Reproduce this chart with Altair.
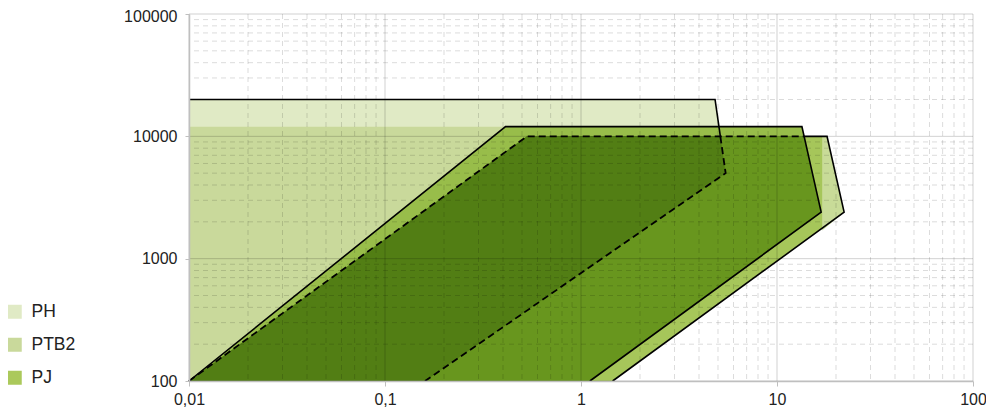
import altair as alt
import pandas as pd

FONT = "Liberation Sans"

# series outlines (x, y)
PH_X = [0.01, 0.01, 4.83, 5.47, 0.16]
PH_Y = [100, 20000, 20000, 5000, 100]
PTB2_X = [0.01, 0.412, 13.4, 16.8, 1.11]
PTB2_Y = [100, 12000, 12000, 2400, 100]
PJ_X = [0.01, 0.53, 18.0, 22.0, 1.45]
PJ_Y = [100, 10000, 10000, 2400, 100]

# overlap regions visible in the reference
PH_LOW_X = [0.01, 0.01, 5.06, 5.47, 0.16]
PH_LOW_Y = [100, 12000, 12000, 5000, 100]
PJ_TIP_X = [17.0, 18.0, 22.0, 17.0]
PJ_TIP_Y = [10000, 10000, 2400, 1700]
PTB2_PJ_X = [0.01, 0.53, 13.71, 16.8, 1.11]
PTB2_PJ_Y = [100, 10000, 10000, 2400, 100]
PH_PJ_X = [0.01, 0.53, 5.14, 5.47, 0.16]
PH_PJ_Y = [100, 10000, 10000, 5000, 100]

# outline pieces
PH_SOLID_X = [0.01, 4.83, 5.14]
PH_SOLID_Y = [20000, 20000, 10000]
PH_DASH_X = [5.14, 5.47, 0.16]
PH_DASH_Y = [10000, 5000, 100]
PJ_DASH_X = [0.01, 0.53, 13.71]
PJ_DASH_Y = [100, 10000, 10000]
PJ_SOLID_X = [13.71, 18.0, 22.0, 1.45]
PJ_SOLID_Y = [10000, 10000, 2400, 100]

SERIES = ["PH", "PTB2", "PJ"]
SERIES_COLORS = ["#e0eac5", "#c9d99b", "#abc95b"]

X_MAJOR = [0.01, 0.1, 1, 10, 100]
Y_MAJOR = [100, 1000, 10000, 100000]
MULT = [2, 3, 4, 5, 6, 7, 8, 9]
X_MINOR = [round(d * m, 4) for d in [0.01, 0.1, 1, 10] for m in MULT]
Y_MINOR = [d * m for d in [100, 1000, 10000] for m in MULT]


def frame(name, xs, ys):
    return pd.DataFrame({"shape": name, "i": list(range(len(xs))), "x": xs, "y": ys})


polys = pd.concat([
    frame("PH", PH_X, PH_Y),
    frame("PTB2", PTB2_X, PTB2_Y),
    frame("PJ", PJ_X, PJ_Y),
    frame("PH_LOW", PH_LOW_X, PH_LOW_Y),
    frame("PJ_TIP", PJ_TIP_X, PJ_TIP_Y),
    frame("PTB2_PJ", PTB2_PJ_X, PTB2_PJ_Y),
    frame("PH_PJ", PH_PJ_X, PH_PJ_Y),
], ignore_index=True)

solid = pd.concat([
    frame("ph_s", PH_SOLID_X, PH_SOLID_Y),
    frame("ptb2_s", PTB2_X, PTB2_Y),
    frame("pj_s", PJ_SOLID_X, PJ_SOLID_Y),
], ignore_index=True)
dashed = pd.concat([
    frame("ph_d", PH_DASH_X, PH_DASH_Y),
    frame("pj_d", PJ_DASH_X, PJ_DASH_Y),
], ignore_index=True)

xscale = alt.Scale(type="log", domain=[0.01, 100], nice=False)
yscale = alt.Scale(type="log", domain=[100, 100000], nice=False)
xaxis = alt.Axis(values=X_MAJOR, grid=False, zindex=1,
                 labelExpr="replace(format(datum.value, '~g'), '.', ',')",
                 tickSize=5, labelPadding=5, labelFlush=False)
yaxis = alt.Axis(values=Y_MAJOR, grid=False, zindex=1,
                 labelExpr="format(datum.value, 'd')",
                 labelOffset={"condition": {"test": "datum.value >= 100000", "value": 2.5}, "value": 0},
                 tickSize=4, labelPadding=8)


def X(field):
    return alt.X(f"{field}:Q", scale=xscale, axis=xaxis, title=None)


def Y(field):
    return alt.Y(f"{field}:Q", scale=yscale, axis=yaxis, title=None)


def poly(name, color):
    return alt.Chart(polys).transform_filter(alt.datum.shape == name).mark_line(
        fill=color, strokeWidth=0
    ).encode(x=X("x"), y=Y("y"), order="i:Q")


layers = [
    poly("PH", "#e0eac5"),
    poly("PH_LOW", "#c9d99b"),
    poly("PJ", "#a6c65a"),
    poly("PJ_TIP", "#c8db98"),
    poly("PTB2", "#98bd4a"),
    poly("PTB2_PJ", "#68961e"),
    poly("PH_PJ", "#527e14"),
]

vminor = alt.Chart(pd.DataFrame({"v": X_MINOR})).mark_rule(
    color="black", opacity=0.14, strokeDash=[5, 4], strokeWidth=1
).encode(x=X("v"))
hminor = alt.Chart(pd.DataFrame({"v": Y_MINOR})).mark_rule(
    color="black", opacity=0.14, strokeDash=[5, 4], strokeWidth=1
).encode(y=Y("v"))
vmajor = alt.Chart(pd.DataFrame({"v": X_MAJOR})).mark_rule(
    color="black", opacity=0.18, strokeWidth=1
).encode(x=X("v"))
hmajor = alt.Chart(pd.DataFrame({"v": Y_MAJOR})).mark_rule(
    color="black", opacity=0.18, strokeWidth=1
).encode(y=Y("v"))

solid_lines = alt.Chart(solid).mark_line(color="black", strokeWidth=1.6).encode(
    x=X("x"), y=Y("y"), detail="shape:N", order="i:Q")
dashed_lines = alt.Chart(dashed).mark_line(color="black", strokeWidth=1.8, strokeDash=[7, 4]).encode(
    x=X("x"), y=Y("y"), detail="shape:N", order="i:Q")

legend_layer = alt.Chart(pd.DataFrame({"series": SERIES})).transform_filter("false").mark_square(
    size=196, opacity=1, filled=True
).encode(
    color=alt.Color("series:N", scale=alt.Scale(domain=SERIES, range=SERIES_COLORS),
                    legend=alt.Legend(orient="none", legendX=-183, legendY=289, title=None,
                                      symbolType="square", symbolSize=196, symbolStrokeWidth=0,
                                      symbolOpacity=1, labelFontSize=17.5, labelFont=FONT,
                                      labelColor="#222", rowPadding=14, labelOffset=8, padding=0))
)

chart = alt.layer(
    *layers, vminor, hminor, vmajor, hmajor, solid_lines, dashed_lines, legend_layer
).properties(
    width=784, height=367,
    autosize=alt.AutoSizeParams(type="none"),
    padding={"left": 181, "top": 6, "right": 13, "bottom": 27},
).configure_view(stroke=None).configure_axis(
    labelFont=FONT, labelFontSize=16, labelColor="#222",
    domainColor="#bfbfbf", tickColor="#bfbfbf", domainWidth=1.5,
)

chart.save("out.html", embed_options={"renderer": "svg", "actions": False})
